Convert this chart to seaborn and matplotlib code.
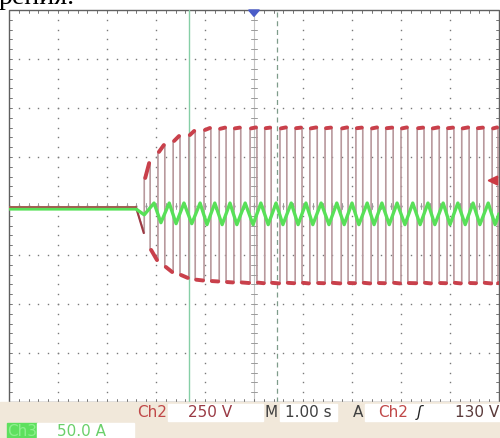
import numpy as np
import pandas as pd
import matplotlib
matplotlib.use("Agg")
import matplotlib.pyplot as plt
import seaborn as sns
from matplotlib.patches import Rectangle, Polygon

# ---------------- data ----------------
V_PER_DIV = 250.0     # Ch2 scale
A_PER_DIV = 50.0      # Ch3 scale
TRIG_LEVEL_V = 130.0

ch2_idle_v = -5
ch2_start_t = -2.41
ch2_first_low_end_v = -138
ch2_rise_t = [-2.24, -1.96, -1.65, -1.33, -1.02, -0.71, -0.41, -0.08, 0.22, 0.53,
              0.84, 1.14, 1.45, 1.78, 2.08, 2.39, 2.69, 3.00, 3.33, 3.63,
              3.94, 4.24, 4.55, 4.86]
ch2_fall_t = [-2.12, -1.82, -1.51, -1.20, -0.88, -0.57, -0.27, 0.06, 0.35, 0.67,
              0.98, 1.29, 1.59, 1.92, 2.22, 2.53, 2.84, 3.14, 3.47, 3.78,
              4.08, 4.39, 4.69, 4.98]
ch2_high_start_v = [143, 276, 332, 362, 388, 394, 396, 396, 397, 396,
                    397, 396, 397, 396, 397, 396, 397, 396, 397, 396,
                    397, 396, 397, 396]
ch2_high_end_v = [219, 311, 357, 383, 398, 400, 400, 401, 400, 401,
                  400, 401, 400, 401, 400, 401, 400, 401, 400, 401,
                  400, 401, 400, 401]
ch2_low_start_v = [-224, -311, -352, -376, -383, -388, -390, -391, -392, -392,
                   -392, -393, -392, -393, -392, -393, -392, -393, -392, -393,
                   -392, -393, -392, -393]
ch2_low_end_v = [-276, -337, -367, -380, -385, -390, -393, -394, -395, -394,
                 -395, -394, -395, -394, -395, -394, -395, -394, -395, -394,
                 -395, -394, -395, -394]

ch3_idle_a = -3
ch3_trough_t = [-2.24, -1.90, -1.59, -1.27, -0.96, -0.65, -0.35, -0.02, 0.29, 0.59,
                0.90, 1.20, 1.53, 1.84, 2.14, 2.45, 2.76, 3.08, 3.39, 3.69,
                4.00, 4.31, 4.61, 4.92]
ch3_trough_a = [-9, -17, -18, -18, -19, -19, -19, -19, -19, -19,
                -19, -19, -19, -19, -19, -19, -19, -19, -19, -19,
                -19, -19, -19, -19]
ch3_peak_t = [-2.04, -1.73, -1.43, -1.10, -0.80, -0.49, -0.18, 0.14, 0.45, 0.76,
              1.06, 1.37, 1.69, 2.00, 2.31, 2.61, 2.92, 3.24, 3.55, 3.86,
              4.16, 4.47, 4.78]
ch3_peak_a = [3, 3, 3, 3, 3, 3, 3, 3, 3, 3,
              3, 3, 3, 3, 3, 3, 3, 3, 3, 3,
              3, 3, 3]

cursor_solid_t = -1.33
cursor_dashed_t = 0.47

# ---------------- build traces ----------------
T0, T1 = -5.0, 5.0
red_t = [T0, ch2_start_t, ch2_rise_t[0]]
red_v = [ch2_idle_v, ch2_idle_v, ch2_first_low_end_v]
segs = []  # plateau segments
n = len(ch2_rise_t)
for k in range(n):
    r, f = ch2_rise_t[k], ch2_fall_t[k]
    nxt = ch2_rise_t[k + 1] if k + 1 < n else T1
    red_t += [r, f, f, nxt]
    red_v += [ch2_high_start_v[k], ch2_high_end_v[k], ch2_low_start_v[k], ch2_low_end_v[k]]
    if k + 1 < n:
        red_t += [nxt]
        red_v += [ch2_high_start_v[k + 1]]
    segs.append((r, ch2_high_start_v[k], f, ch2_high_end_v[k]))
    segs.append((f, ch2_low_start_v[k], nxt, ch2_low_end_v[k]))

red_df = pd.DataFrame({"t": red_t, "div": np.array(red_v) / V_PER_DIV})
seg_rows = []
for i, (ta, va, tb, vb) in enumerate(segs):
    seg_rows.append((i, ta + 0.02, va / V_PER_DIV))
    seg_rows.append((i, tb - 0.02, vb / V_PER_DIV))
seg_df = pd.DataFrame(seg_rows, columns=["seg", "t", "div"])
pre_df = pd.DataFrame({"t": [T0, ch2_start_t], "div": [ch2_idle_v / V_PER_DIV] * 2})
ramp_df = pd.DataFrame({"t": [ch2_start_t, ch2_rise_t[0] - 0.01],
                        "div": [ch2_idle_v / V_PER_DIV, ch2_first_low_end_v / V_PER_DIV]})

g_pts = sorted(list(zip(ch3_trough_t, ch3_trough_a)) + list(zip(ch3_peak_t, ch3_peak_a)))
g_t = [T0, ch2_start_t] + [p[0] for p in g_pts] + [T1]
g_a = [ch3_idle_a, ch3_idle_a] + [p[1] for p in g_pts] + [-8]
green_df = pd.DataFrame({"t": g_t, "div": np.array(g_a) / A_PER_DIV})

# ---------------- figure ----------------
sns.set_theme(style="white")
W, H = 500, 438
fig = plt.figure(figsize=(5, 4.38), dpi=100)
fig.patch.set_facecolor("white")
L, R, TOP, BOT = 9, 499, 10, 402
ax = fig.add_axes([L / W, (H - BOT) / H, (R - L) / W, (BOT - TOP) / H])
ax.set_xlim(-5, 5)
ax.set_ylim(-4, 4)
ax.set_facecolor("white")
for s in ax.spines.values():
    s.set_visible(False)
ax.set_xticks([])
ax.set_yticks([])

grid_c = "#7a7a7a"
# dotted graticule
sub = np.arange(-4, 4.001, 0.2)
subx = np.arange(-5, 5.001, 0.2)
for gx in range(-4, 5):
    if gx == 0:
        continue
    ax.plot([gx] * len(sub), sub, ls="none", marker="s", ms=1.0, mew=0, color=grid_c)
for gy in range(-3, 4):
    if gy == 0:
        continue
    ax.plot(subx, [gy] * len(subx), ls="none", marker="s", ms=1.0, mew=0, color=grid_c)
# center axes with ticks
ax.axvline(0, color="#c4c4c4", lw=0.8)
ax.plot(subx, [0] * len(subx), ls="none", marker="s", ms=1.2, mew=0, color="#444444")
for yy in sub:
    ax.plot([-0.07, 0.07], [yy, yy], color="#9a9a9a", lw=0.7)
for xx in subx:
    ax.plot([xx, xx], [-0.06, 0.06], color="#9a9a9a", lw=0.7)
# frame with ticks
frame_c = "#606060"
ax.plot([-5, 5, 5, -5, -5], [-4, -4, 4, 4, -4], color=frame_c, lw=1.0, clip_on=False)
for xx in subx:
    ax.plot([xx, xx], [4, 3.94], color=frame_c, lw=0.6)
    ax.plot([xx, xx], [-4, -3.94], color=frame_c, lw=0.6)
for yy in sub:
    ax.plot([-5, -4.94], [yy, yy], color=frame_c, lw=0.6)
    ax.plot([5, 4.94], [yy, yy], color=frame_c, lw=0.6)

# cursors
ax.axvline(cursor_solid_t, color="#86cfa6", lw=1.0)
ax.axvline(cursor_dashed_t, color="#7e9c8a", lw=0.9, ls=(0, (4, 3)))

# traces
sns.lineplot(data=red_df, x="t", y="div", sort=False, estimator=None,
             color="#b8999d", lw=1.2, ax=ax)
sns.lineplot(data=seg_df, x="t", y="div", units="seg", sort=False, estimator=None,
             color="#c9404b", lw=2.8, ax=ax)
sns.lineplot(data=ramp_df, x="t", y="div", sort=False, estimator=None,
             color="#9e3a44", lw=1.5, ax=ax)
sns.lineplot(data=green_df, x="t", y="div", sort=False, estimator=None,
             color="#58e058", lw=2.4, ax=ax)
sns.lineplot(data=pre_df, x="t", y="div", sort=False, estimator=None,
             color="#a05a4c", lw=1.3, ax=ax)
ax.set_xlabel("")
ax.set_ylabel("")

# markers: trigger position and trigger level
ax.add_patch(Polygon([[-0.11, 4.0], [0.11, 4.0], [0.0, 3.87]], closed=True,
                     color="#4a5cc8", clip_on=False, zorder=10))
ty = TRIG_LEVEL_V / V_PER_DIV
ax.add_patch(Polygon([[4.78, ty], [4.97, ty + 0.09], [4.97, ty - 0.09]], closed=True,
                     color="#cc3a44", zorder=10))

# ---------------- status bar ----------------
def fx(x):
    return x / W


def fy(y):
    return 1 - y / H


fig.patches.append(Rectangle((0, 0), 1, fy(402), transform=fig.transFigure,
                             color="#f1e8da", zorder=0))


def box(x0, y0, x1, y1, c):
    fig.patches.append(Rectangle((fx(x0), fy(y1)), fx(x1) - fx(x0), fy(y0) - fy(y1),
                                 transform=fig.transFigure, color=c, zorder=1))


box(168, 404, 263, 421, "white")
box(280, 404, 337, 421, "white")
box(365, 404, 500, 421, "white")
box(7, 423, 37, 438, "#5ee05e")
box(37, 423, 134, 438, "white")

fs = 11
def t(x, y, s, c, ha="left", **kw):
    fig.text(fx(x), fy(y), s, color=c, fontsize=fs, ha=ha, va="center",
             family="DejaVu Sans", zorder=3, **kw)


t(137, 412.5, "Ch2", "#c04848")
t(188, 412.5, "250 V", "#9a3a44")
t(265, 412.5, "M", "#404040")
t(285, 412.5, "1.00 s", "#404040")
t(353, 412.5, "A", "#404040")
t(378, 412.5, "Ch2", "#c04848")
t(417, 412.5, "ʃ", "#202020", style="italic")
t(499, 412.5, "130 V", "#5a3a3a", ha="right")
t(7, 431, "Ch3", "#8ef08e")
t(57, 431, "50.0 A", "#6ad06a")

# cropped line of document text at the very top (cut off as in the source)
fig.text(fx(-1), fy(4), "рения.", color="black", fontsize=20,
         family="Liberation Serif", va="baseline", ha="left")

fig.savefig("out.png", dpi=100)
